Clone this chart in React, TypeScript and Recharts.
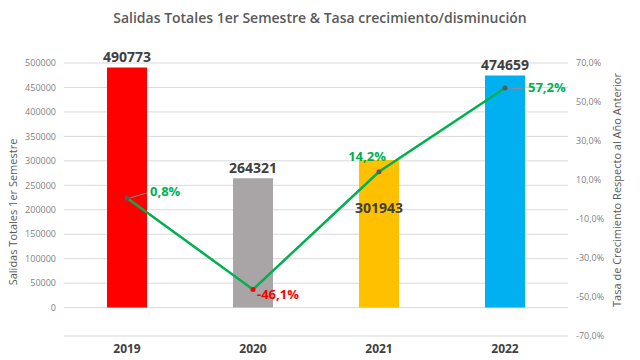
import {
    ComposedChart,
    Bar,
    Line,
    XAxis,
    YAxis,
    CartesianGrid,
    Cell,
    LabelList,
} from "recharts";

const years = ["2019", "2020", "2021", "2022"];
const salidas = [490773, 264321, 301943, 474659];
const tasa = [0.8, -46.1, 14.2, 57.2];
const leftTicks = [0, 50000, 100000, 150000, 200000, 250000, 300000, 350000, 400000, 450000, 500000];
const rightTicks = [-70, -50, -30, -10, 10, 30, 50, 70];

const barColors = ["#FF0000", "#A9A5A6", "#FFC000", "#00B0F0"];
// label placement per point (dx, dy, anchor, leader line)
const rateLabelPos = [
    { dx: 23, dy: -5, anchor: "start", leader: true },
    { dx: 4, dy: 6, anchor: "start", leader: false },
    { dx: -12, dy: -14, anchor: "middle", leader: false },
    { dx: 23, dy: 1, anchor: "start", leader: true },
];

const data = years.map((year, i) => ({
    year,
    salidas: salidas[i],
    tasa: tasa[i],
}));

const font = "'Open Sans', 'Liberation Sans', sans-serif";

const fmtPct = (v: number) => v.toFixed(1).replace(".", ",") + "%";

function BarValue(props: any) {
    const { x, y, width, value, index } = props;
    const inside = index === 2;
    return (
        <text
            x={x + width / 2}
            y={inside ? y + 49 : y - 9}
            textAnchor="middle"
            dominantBaseline="middle"
            fontFamily={font}
            fontWeight="bold"
            fontSize={14}
            fill="#404040"
        >
            {value}
        </text>
    );
}

function RateValue(props: any) {
    const { x, y, value, index } = props;
    const pos = rateLabelPos[index];
    const color = value < 0 ? "#FF0000" : "#00B050";
    return (
        <g>
            {pos.leader && (
                <line
                    x1={x + 3}
                    y1={y}
                    x2={x + pos.dx - 3}
                    y2={y + pos.dy}
                    stroke="#8c8c8c"
                    strokeWidth={1}
                />
            )}
            <text
                x={x + pos.dx}
                y={y + pos.dy}
                textAnchor={pos.anchor}
                dominantBaseline="middle"
                fontFamily={font}
                fontWeight="bold"
                fontSize={13}
                fill={color}
            >
                {fmtPct(value)}
            </text>
        </g>
    );
}

function LeftTitle() {
    return (
        <text
            x={14}
            y={212}
            transform="rotate(-90 14 212)"
            textAnchor="middle"
            dominantBaseline="middle"
            fontFamily={font}
            fontSize={11}
            fill="#595959"
        >
            Salidas Totales 1er Semestre
        </text>
    );
}

function RightTitle() {
    return (
        <text
            x={618}
            y={190}
            transform="rotate(-90 618 190)"
            textAnchor="middle"
            dominantBaseline="middle"
            fontFamily={font}
            fontSize={11}
            fill="#595959"
        >
            Tasa de Crecimiento Respecto al Año Anterior
        </text>
    );
}

export default function App() {
    return (
        <div style={{ position: "absolute", left: 0, top: 0, width: 640, height: 360, background: "#fff" }}>
            <div
                style={{
                    position: "absolute",
                    left: 0,
                    top: 7,
                    width: 640,
                    textAlign: "center",
                    fontFamily: font,
                    fontWeight: 600,
                    fontSize: 14,
                    lineHeight: "22px",
                    color: "#595959",
                }}
            >
                Salidas Totales 1er Semestre &amp; Tasa crecimiento/disminución
            </div>
            <ComposedChart
                width={640}
                height={360}
                data={data}
                margin={{ top: 63, right: 0, bottom: 0, left: 0 }}
            >
                <CartesianGrid yAxisId="left" vertical={false} stroke="#d9d9d9" />
                <XAxis
                    dataKey="year"
                    axisLine={false}
                    tickLine={false}
                    tickSize={0}
                    tickMargin={8}
                    height={24}
                    tick={{ fontFamily: font, fontSize: 12, fontWeight: "bold", fill: "#404040" }}
                />
                <YAxis
                    yAxisId="left"
                    width={64}
                    domain={[-58000, 500000]}
                    ticks={leftTicks}
                    axisLine={false}
                    tickLine={false}
                    tickSize={0}
                    tickMargin={8}
                    tick={{ fontFamily: font, fontSize: 9, fill: "#7f7f7f" }}
                    label={<LeftTitle />}
                />
                <YAxis
                    yAxisId="right"
                    orientation="right"
                    width={72}
                    domain={[-70, 70]}
                    ticks={rightTicks}
                    axisLine={false}
                    tickLine={false}
                    tickSize={0}
                    tickMargin={8}
                    tickFormatter={fmtPct}
                    tick={{ fontFamily: font, fontSize: 9, fill: "#7f7f7f" }}
                    label={<RightTitle />}
                />
                <Bar yAxisId="left" dataKey="salidas" barSize={40} isAnimationActive={false}>
                    {data.map((d, i) => (
                        <Cell key={d.year} fill={barColors[i]} />
                    ))}
                    <LabelList dataKey="salidas" content={<BarValue />} />
                </Bar>
                <Line
                    yAxisId="right"
                    type="linear"
                    dataKey="tasa"
                    stroke="#00B050"
                    strokeWidth={2.5}
                    isAnimationActive={false}
                    dot={(p: any) => (
                        <circle
                            key={"dot" + p.index}
                            cx={p.cx}
                            cy={p.cy}
                            r={2.5}
                            fill={p.value < 0 ? "#FF0000" : "#595959"}
                            stroke="none"
                        />
                    )}
                    activeDot={false}
                >
                    <LabelList dataKey="tasa" content={<RateValue />} />
                </Line>
            </ComposedChart>
        </div>
    );
}
